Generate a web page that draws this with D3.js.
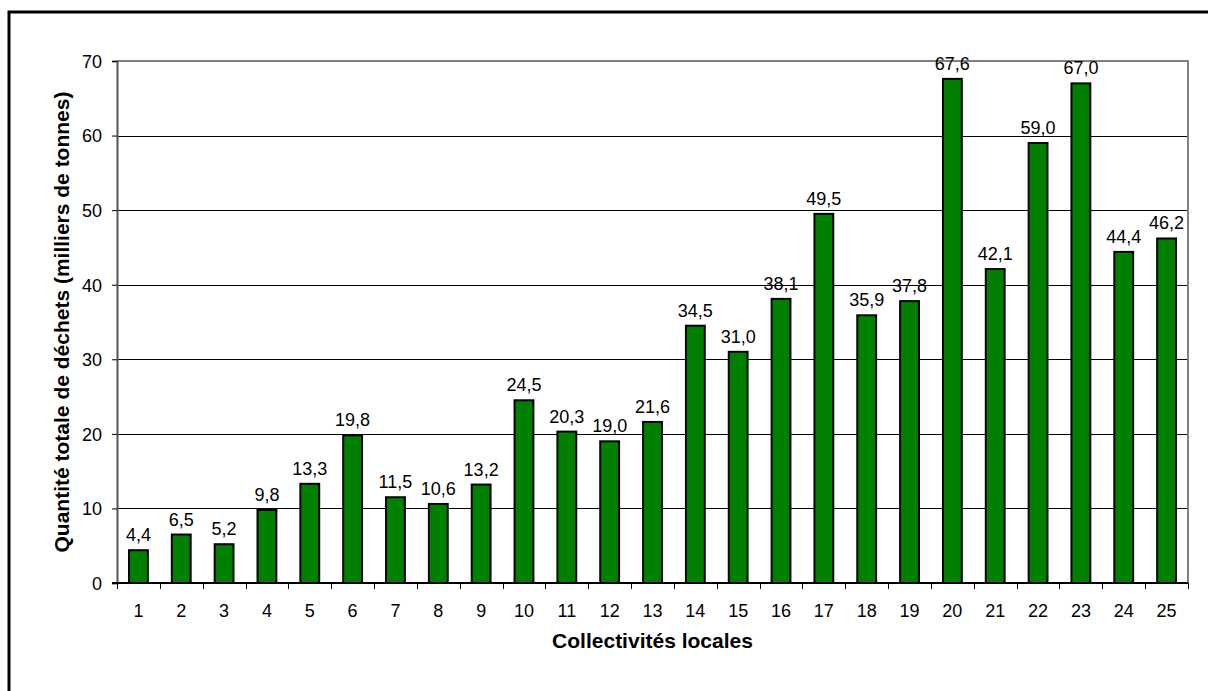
<!DOCTYPE html>
<html>
<head>
<meta charset="utf-8">
<script src="https://cdn.jsdelivr.net/npm/d3@7"></script>
<style>
  body { margin: 0; background: #fff; }
  svg text { font-family: "Liberation Sans", Arial, sans-serif; fill: #000; }
</style>
</head>
<body>
<script>
//chart data
var categories = d3.range(1, 26).map(String);
var values = [4.4, 6.5, 5.2, 9.8, 13.3, 19.8, 11.5, 10.6, 13.2, 24.5, 20.3, 19.0, 21.6,
              34.5, 31.0, 38.1, 49.5, 35.9, 37.8, 67.6, 42.1, 59.0, 67.0, 44.4, 46.2];
var yTicks = [0, 10, 20, 30, 40, 50, 60, 70];
var xTitle = "Collectivités locales";
var yTitle = "Quantité totale de déchets (milliers de tonnes)";

var width = 1208, height = 691;
var plot = {left: 117, right: 1188, top: 61, bottom: 583};

var svg = d3.select("body").append("svg")
  .attr("width", width)
  .attr("height", height);

//outer frame, runs off the right and bottom edges
svg.append("rect")
  .attr("x", 9).attr("y", 12)
  .attr("width", 1230).attr("height", 720)
  .attr("fill", "none")
  .attr("stroke", "#000")
  .attr("stroke-width", 3);

var x = d3.scaleBand()
  .domain(categories)
  .range([plot.left, plot.right])
  .paddingInner(0.56)
  .paddingOuter(0.28);

var y = d3.scaleLinear()
  .domain([0, 70])
  .range([plot.bottom, plot.top]);

//gridlines, snapped to whole pixels so they stay crisp
svg.append("g")
  .selectAll("line")
  .data(yTicks.filter(function(d){ return d > 0 && d < 70; }))
  .enter().append("line")
  .attr("x1", plot.left).attr("x2", plot.right)
  .attr("y1", function(d){ return Math.round(y(d)) + 0.5; })
  .attr("y2", function(d){ return Math.round(y(d)) + 0.5; })
  .attr("stroke", "#000")
  .attr("stroke-width", 1);

//plot border top and right, grey
svg.append("path")
  .attr("d", "M" + plot.left + "," + plot.top + "H" + plot.right + "V" + plot.bottom)
  .attr("fill", "none")
  .attr("stroke", "#808080")
  .attr("stroke-width", 2);

//bars
svg.append("g")
  .selectAll("rect")
  .data(values)
  .enter().append("rect")
  .attr("x", function(d, i){ return x(categories[i]); })
  .attr("y", function(d){ return y(d); })
  .attr("width", x.bandwidth())
  .attr("height", function(d){ return y(0) - y(d); })
  .attr("fill", "#008000")
  .attr("stroke", "#000")
  .attr("stroke-width", 2);

//value labels
svg.append("g")
  .selectAll("text")
  .data(values)
  .enter().append("text")
  .attr("x", function(d, i){ return x(categories[i]) + x.bandwidth() / 2; })
  .attr("y", function(d){ return y(d) - 9; })
  .attr("text-anchor", "middle")
  .style("font-size", "18px")
  .text(function(d){ return d3.format(".1f")(d).replace(".", ","); });

//y axis
var yAxis = d3.axisLeft(y)
  .tickValues(yTicks)
  .tickSize(5)
  .tickPadding(10);
var yg = svg.append("g")
  .attr("transform", "translate(" + plot.left + ",0)")
  .call(yAxis);
yg.select(".domain").attr("stroke", "#555").attr("stroke-width", 2);
yg.selectAll(".tick line").attr("stroke", "#000");
yg.selectAll(".tick text").style("font-size", "18px").attr("dy", "0.35em");

//x axis, ticks at category boundaries
var boundaries = d3.range(0, categories.length + 1).map(function(i){
  return plot.left + i * (plot.right - plot.left) / categories.length;
});
svg.append("line")
  .attr("x1", plot.left - 5).attr("x2", plot.right)
  .attr("y1", plot.bottom).attr("y2", plot.bottom)
  .attr("stroke", "#000").attr("stroke-width", 2);
svg.append("g")
  .selectAll("line")
  .data(boundaries)
  .enter().append("line")
  .attr("x1", function(d){ return Math.round(d) + 0.5; })
  .attr("x2", function(d){ return Math.round(d) + 0.5; })
  .attr("y1", plot.bottom).attr("y2", plot.bottom + 6)
  .attr("stroke", "#000");
svg.append("g")
  .selectAll("text")
  .data(categories)
  .enter().append("text")
  .attr("x", function(d){ return x(d) + x.bandwidth() / 2; })
  .attr("y", 617)
  .attr("text-anchor", "middle")
  .style("font-size", "18px")
  .text(function(d){ return d; });

//axis titles
svg.append("text")
  .attr("x", (plot.left + plot.right) / 2)
  .attr("y", 648)
  .attr("text-anchor", "middle")
  .style("font-size", "21px")
  .style("font-weight", "bold")
  .text(xTitle);

svg.append("text")
  .attr("transform", "translate(69," + (plot.top + plot.bottom) / 2 + ") rotate(-90)")
  .attr("text-anchor", "middle")
  .style("font-size", "21px")
  .style("font-weight", "bold")
  .text(yTitle);
</script>
</body>
</html>
